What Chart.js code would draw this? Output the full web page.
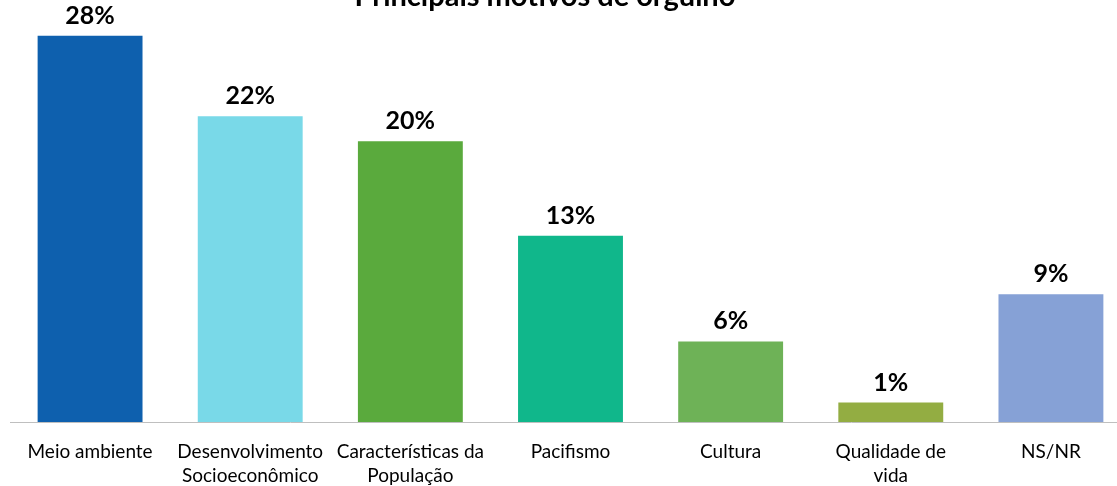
<!DOCTYPE html>
<html>
<head>
<meta charset="utf-8">
<script src="https://cdn.jsdelivr.net/npm/chart.js@4"></script>
<style>
  html, body { margin: 0; padding: 0; background: #fff; overflow: hidden; }
  #wrap { position: absolute; left: 0; top: 0; width: 1140px; height: 506px; }
</style>
</head>
<body>
<div id="wrap"><canvas id="orgulhoChart"></canvas></div>
<script>
/* Principais motivos de orgulho — bar chart */
const categories = [
    'Meio ambiente',
    ['Desenvolvimento', 'Socioeconômico'],
    ['Características da', 'População'],
    'Pacifismo',
    'Cultura',
    ['Qualidade de', 'vida'],
    'NS/NR'
];
const values = [27.8, 22.0, 20.2, 13.4, 5.8, 1.4, 9.2];
const barColors = ['#0e60ae', '#79d9e8', '#5aaa3d', '#10b78b', '#6eb257', '#93ad42', '#86a1d6'];
const chartTitle = 'Principais motivos de orgulho';

const FONT = "Lato, 'Open Sans', sans-serif";
Chart.defaults.font.family = FONT;
Chart.defaults.color = '#000';

// value labels above bars + clipped title at the very top
const labelsPlugin = {
    id: 'labelsPlugin',
    afterDatasetsDraw(chart) {
        const ctx = chart.ctx;
        const meta = chart.getDatasetMeta(0);
        ctx.save();
        ctx.font = "bold 25px " + FONT;
        ctx.fillStyle = '#000';
        ctx.textAlign = 'center';
        ctx.textBaseline = 'alphabetic';
        meta.data.forEach((bar, i) => {
            ctx.fillText(Math.round(values[i]) + '%', bar.x, bar.y - 12);
        });
        ctx.font = "bold 29px " + FONT;
        ctx.fillText(chartTitle, 545, 6);
        ctx.restore();
    }
};

new Chart(document.getElementById('orgulhoChart').getContext('2d'), {
    type: 'bar',
    data: {
        labels: categories,
        datasets: [{
            data: values,
            backgroundColor: barColors,
            borderWidth: 0,
            categoryPercentage: 1.0,
            barPercentage: 0.655
        }]
    },
    options: {
        responsive: true,
        maintainAspectRatio: false,
        animation: false,
        layout: { padding: { top: 33, left: 10, right: 9, bottom: 0 } },
        plugins: {
            legend: { display: false },
            tooltip: { enabled: false }
        },
        scales: {
            y: { display: false, min: 0, max: 28 },
            x: {
                grid: { display: false, drawTicks: false },
                border: { color: '#bfbfbf', width: 1 },
                ticks: {
                    autoSkip: false,
                    maxRotation: 0,
                    padding: 18,
                    color: '#000',
                    font: { size: 19, lineHeight: '24px' }
                }
            }
        }
    },
    plugins: [labelsPlugin]
});
</script>
</body>
</html>
